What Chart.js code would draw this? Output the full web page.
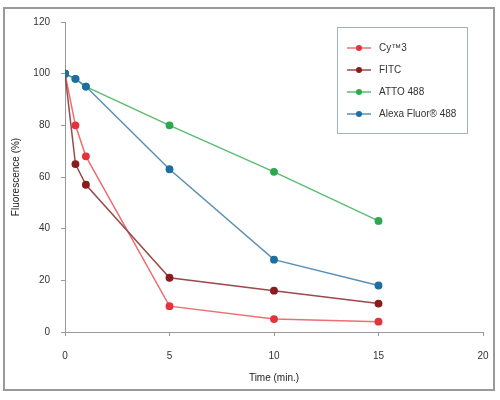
<!DOCTYPE html>
<html>
<head>
<meta charset="utf-8">
<script src="https://cdn.jsdelivr.net/npm/chart.js@4"></script>
<style>
  html, body { margin: 0; padding: 0; background: #fff; }
  #wrap { width: 500px; height: 400px; position: relative; }
</style>
</head>
<body>
<div id="wrap"><canvas id="myChart"></canvas></div>
<script>
const times = [0, 0.5, 1, 5, 10, 15];
const cy3 = [100, 80, 68, 10, 5, 4];
const fitc = [100, 65, 57, 21, 16, 11];
const atto488 = [100, 98, 95, 80, 62, 43];
const alexa488 = [100, 98, 95, 63, 28, 18];
const seriesNames = ['Cy\u21223', 'FITC', 'ATTO 488', 'Alexa Fluor\u00ae 488'];
const xTicks = [0, 5, 10, 15, 20];
const yTicks = [0, 20, 40, 60, 80, 100, 120];

const colors = ['#e3343c', '#8a1c1e', '#2fa84f', '#1d6f9f'];
const lineColors = ['#ec6f74', '#9a4a4a', '#5cbd72', '#5a8fb5'];

function pts(vals) {
  return times.map((t, i) => ({ x: t, y: vals[i] }));
}

// outer frame + boxed legend inside the plot
const frameAndLegend = {
  id: 'frameAndLegend',
  afterDraw(chart) {
    const c = chart.ctx;
    c.save();
    c.strokeStyle = '#9a9a9a';
    c.lineWidth = 2;
    c.strokeRect(4, 8, 490, 382);

    const bx = 337, by = 27, bw = 130, bh = 106;
    c.fillStyle = '#fff';
    c.fillRect(bx, by, bw, bh);
    c.strokeStyle = '#9fb4c0';
    c.lineWidth = 1;
    c.strokeRect(bx + 0.5, by + 0.5, bw, bh);

    chart.data.datasets.forEach((ds, i) => {
      const y = by + 21 + i * 22;
      c.strokeStyle = ds.borderColor;
      c.lineWidth = 1.5;
      c.beginPath();
      c.moveTo(bx + 10, y);
      c.lineTo(bx + 34, y);
      c.stroke();
      c.fillStyle = ds.pointBackgroundColor;
      c.beginPath();
      c.arc(bx + 22, y, 3, 0, Math.PI * 2);
      c.fill();
      c.fillStyle = '#333';
      c.font = '10px "Liberation Sans", Arial, sans-serif';
      c.textBaseline = 'middle';
      c.fillText(ds.label, bx + 42, y);
    });
    c.restore();
  }
};

new Chart(document.getElementById('myChart'), {
  type: 'line',
  data: {
    datasets: [cy3, fitc, atto488, alexa488].map((vals, i) => ({
      label: seriesNames[i],
      data: pts(vals),
      borderColor: lineColors[i],
      backgroundColor: colors[i],
      pointBackgroundColor: colors[i],
      pointBorderColor: colors[i],
      pointRadius: 3.2,
      borderWidth: 1.5,
      tension: 0,
      order: 4 - i
    }))
  },
  options: {
    responsive: true,
    maintainAspectRatio: false,
    animation: false,
    layout: { padding: { left: 8, right: 17, top: 22, bottom: 12 } },
    plugins: {
      legend: { display: false },
      tooltip: { enabled: false }
    },
    scales: {
      x: {
        type: 'linear',
        min: 0, max: 20,
        afterBuildTicks: s => { s.ticks = xTicks.map(v => ({ value: v })); },
        afterFit: s => { s.height = 56; s.paddingLeft = 0; s.paddingRight = 0; },
        grid: { drawOnChartArea: false, tickLength: 4, color: '#999' },
        border: { color: '#999' },
        ticks: { color: '#333', font: { size: 10, family: '"Liberation Sans", Arial' }, padding: 14 },
        title: { display: true, text: 'Time (min.)', color: '#222', font: { size: 10, family: '"Liberation Sans", Arial' }, padding: { top: 6 } }
      },
      y: {
        min: 0, max: 120,
        afterBuildTicks: s => { s.ticks = yTicks.map(v => ({ value: v })); },
        afterFit: s => { s.width = 57; s.paddingTop = 0; s.paddingBottom = 0; },
        grid: { drawOnChartArea: false, tickLength: 4, color: '#999' },
        border: { color: '#999' },
        ticks: { color: '#333', font: { size: 10, family: '"Liberation Sans", Arial' }, padding: 11 },
        title: { display: true, text: 'Fluorescence (%)', color: '#222', font: { size: 10, family: '"Liberation Sans", Arial' }, padding: { top: 2 } }
      }
    }
  },
  plugins: [frameAndLegend]
});
</script>
</body>
</html>
